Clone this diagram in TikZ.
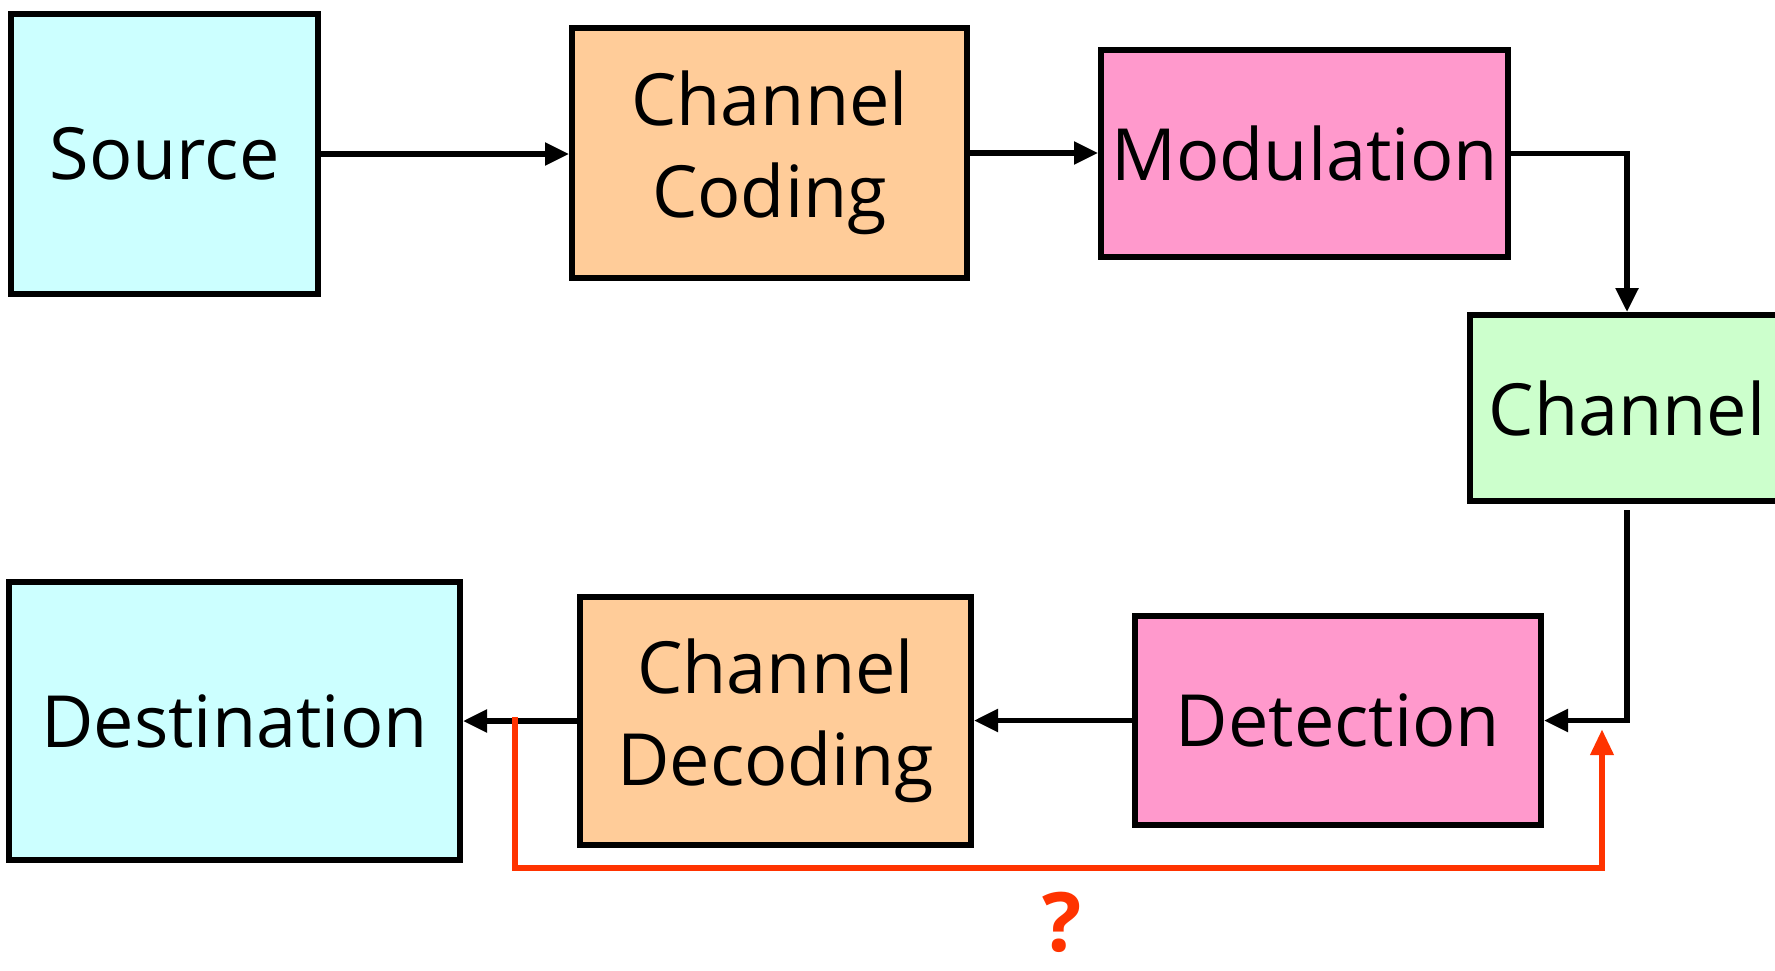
\documentclass[tikz,border=0pt]{standalone}
\usepackage{fontspec}
\setmainfont{Open Sans}
\usetikzlibrary{arrows.meta}
\definecolor{srccyan}{HTML}{CCFFFF}
\definecolor{codeorange}{HTML}{FFCC99}
\definecolor{modpink}{HTML}{FF99CC}
\definecolor{chgreen}{HTML}{CCFFCC}
\definecolor{fbred}{HTML}{FF3300}
\tikzset{
  block/.style={draw=black, line width=6pt, align=center, inner sep=0pt,
    font=\fontsize{72}{92}\selectfont},
  link/.style={line width=5.5pt, -{Triangle[length=24pt,width=22pt]}},
  feedback/.style={draw=fbred, line width=6.5pt, -{Triangle[length=26pt,width=22pt]}}
}
\begin{document}
\begin{tikzpicture}[x=1pt,y=-1pt]
  \useasboundingbox (0,0) rectangle (1775,970);
  % transmitter row
  \node[block, fill=srccyan, minimum width=307pt, minimum height=280pt] (source) at (164.5,154) {Source};
  \node[block, fill=codeorange, minimum width=395pt, minimum height=250pt] (coding) at (769.5,153) {Channel\\Coding};
  \node[block, fill=modpink, minimum width=407pt, minimum height=207pt] (modulation) at (1304.5,153.5) {Modulation};
  % channel, cut by the right edge
  \node[block, fill=chgreen, minimum width=314pt, minimum height=186pt] (channel) at (1627,408) {Channel};
  % receiver row
  \node[block, fill=codeorange, minimum width=391pt, minimum height=248pt] (decoding) at (775.5,721) {Channel\\Decoding};
  \node[block, fill=modpink, minimum width=406pt, minimum height=209pt] (detection) at (1338,720.5) {Detection};
  \node[block, fill=srccyan, minimum width=451pt, minimum height=278pt] (destination) at (234.5,721) {Destination};
  % forward path
  \draw[link] (source.east) -- (source.east -| coding.west);
  \draw[link] (coding.east) -- (coding.east -| modulation.west);
  \draw[link] (modulation.east) -| (channel.north);
  \draw[link, shorten <=6pt] (channel.south) |- (detection.east);
  \draw[link] (detection.west) -- (detection.west -| decoding.east);
  \draw[link] (decoding.west) -- (decoding.west -| destination.east);
  % feedback loop
  \coordinate (tap) at (515,717);
  \coordinate (back) at (1602,729);
  \draw[feedback] (tap) -- (515,868) -| (back);
  \node[text=fbred, inner sep=0pt, font=\fontsize{82}{84}\selectfont\bfseries] (ask) at (1062,922) {?};
\end{tikzpicture}
\end{document}
